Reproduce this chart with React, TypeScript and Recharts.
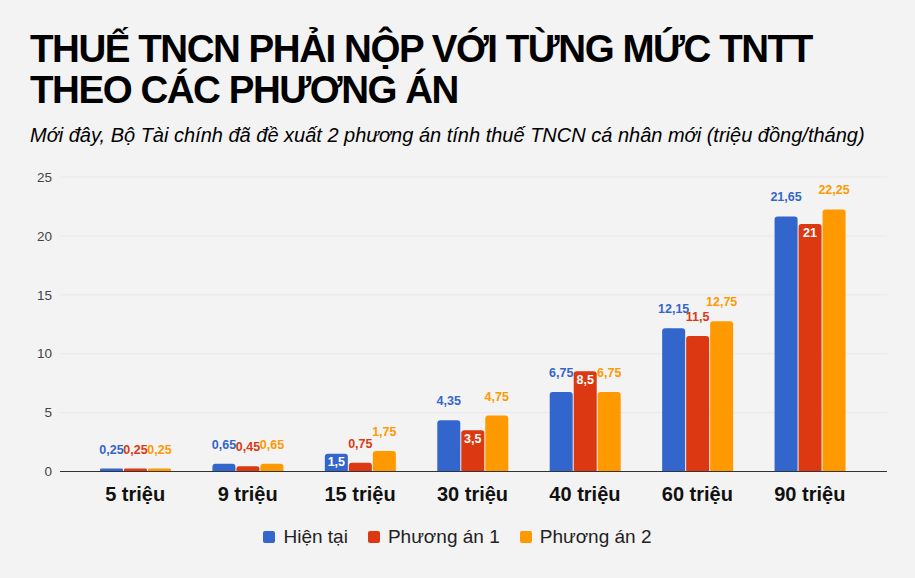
import React from "react";
import {
  BarChart,
  Bar,
  XAxis,
  YAxis,
  CartesianGrid,
  Legend,
  LabelList,
} from "recharts";

// ---------------------------------------------------------------------------
// Data
// ---------------------------------------------------------------------------

const categories = [
  "5 triệu",
  "9 triệu",
  "15 triệu",
  "30 triệu",
  "40 triệu",
  "60 triệu",
  "90 triệu",
];

const hienTai = [0.25, 0.65, 1.5, 4.35, 6.75, 12.15, 21.65];
const phuongAn1 = [0.25, 0.45, 0.75, 3.5, 8.5, 11.5, 21];
const phuongAn2 = [0.25, 0.65, 1.75, 4.75, 6.75, 12.75, 22.25];

const yTicks = [0, 5, 10, 15, 20, 25];

// labels the original draws inside the bar (white text)
const insideLabels: Record<string, string[]> = {
  hienTai: ["15 triệu"],
  phuongAn1: ["30 triệu", "40 triệu", "90 triệu"],
  phuongAn2: [],
};

const SERIES = [
  { key: "hienTai", name: "Hiện tại", color: "#3366cc" },
  { key: "phuongAn1", name: "Phương án 1", color: "#dc3912" },
  { key: "phuongAn2", name: "Phương án 2", color: "#ff9900" },
];

const data = categories.map((name, i) => ({
  name,
  hienTai: hienTai[i],
  phuongAn1: phuongAn1[i],
  phuongAn2: phuongAn2[i],
}));

const FONT = '"Liberation Sans", Arial, sans-serif';
const BG = "#f3f3f3";

// ---------------------------------------------------------------------------
// Helpers
// ---------------------------------------------------------------------------

const fmt = (v: number) => String(v).replace(".", ",");

function makeLabel(seriesKey: string, color: string) {
  return (props: any) => {
    const { x, y, width, value, index } = props;
    const inside = insideLabels[seriesKey].includes(categories[index]);
    return (
      <text
        x={x + width / 2}
        y={inside ? y + 12.5 : y - 15}
        textAnchor="middle"
        fontFamily={FONT}
        fontSize={12.5}
        fontWeight="bold"
        fill={inside ? "#ffffff" : color}
      >
        {fmt(value)}
      </text>
    );
  };
}

function LegendContent() {
  return (
    <div
      style={{
        display: "flex",
        justifyContent: "center",
        alignItems: "center",
        fontFamily: FONT,
        fontSize: 19,
        color: "#222",
      }}
    >
      {SERIES.map((s) => (
        <span
          key={s.key}
          style={{ display: "flex", alignItems: "center", margin: "0 10px" }}
        >
          <span
            style={{
              width: 12,
              height: 12,
              borderRadius: 2,
              background: s.color,
              marginRight: 8,
              display: "inline-block",
            }}
          />
          {s.name}
        </span>
      ))}
    </div>
  );
}

// ---------------------------------------------------------------------------
// Component
// ---------------------------------------------------------------------------

export default function App() {
  return (
    <div
      style={{
        position: "absolute",
        left: 0,
        top: 0,
        width: 915,
        height: 578,
        background: BG,
        overflow: "hidden",
      }}
    >
      <div
        style={{
          position: "absolute",
          left: 30,
          top: 29,
          fontFamily: FONT,
          fontWeight: "bold",
          fontSize: 38.5,
          lineHeight: "40.6px",
          letterSpacing: -1.45,
          color: "#000",
          whiteSpace: "nowrap",
        }}
      >
        THUẾ TNCN PHẢI NỘP VỚI TỪNG MỨC TNTT
        <br />
        THEO CÁC PHƯƠNG ÁN
      </div>
      <div
        style={{
          position: "absolute",
          left: 30,
          top: 124,
          fontFamily: FONT,
          fontStyle: "italic",
          fontSize: 20,
          color: "#000",
          whiteSpace: "nowrap",
        }}
      >
        Mới đây, Bộ Tài chính đã đề xuất 2 phương án tính thuế TNCN cá nhân
        mới (triệu đồng/tháng)
      </div>

      <div style={{ position: "absolute", left: 0, top: 0 }}>
        <BarChart
          width={915}
          height={578}
          data={data}
          barSize={23}
          barGap={1}
          margin={{ top: 177, right: 28, bottom: 66.5, left: 0 }}
        >
          <CartesianGrid vertical={false} stroke="#e8e8e8" />
          <XAxis
            dataKey="name"
            padding={{ left: 19, right: 21 }}
            height={40}
            tickLine={false}
            tickMargin={9}
            axisLine={{ stroke: "#333", strokeWidth: 1.2 }}
            tick={{ fontFamily: FONT, fontSize: 20, fontWeight: "bold", fill: "#111" }}
            interval={0}
          />
          <YAxis
            width={60}
            domain={[0, 25]}
            ticks={yTicks}
            axisLine={false}
            tickLine={false}
            tick={{ fontFamily: FONT, fontSize: 13.5, fill: "#444" }}
          />
          <Legend
            verticalAlign="middle"
            layout="horizontal"
            content={<LegendContent />}
            wrapperStyle={{ top: 526, left: 0, width: 915 }}
          />
          {SERIES.map((s) => (
            <Bar
              key={s.key}
              dataKey={s.key}
              name={s.name}
              fill={s.color}
              radius={[3, 3, 0, 0]}
              isAnimationActive={false}
            >
              <LabelList dataKey={s.key} content={makeLabel(s.key, s.color)} />
            </Bar>
          ))}
        </BarChart>
      </div>
    </div>
  );
}
